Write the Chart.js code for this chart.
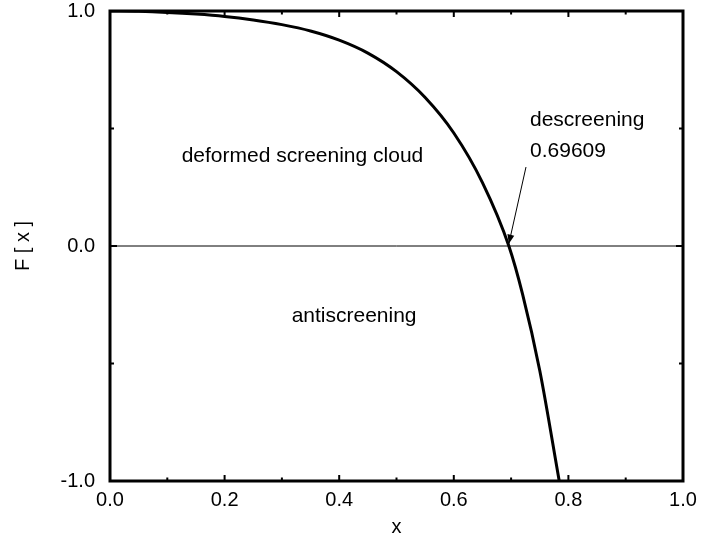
<!DOCTYPE html>
<html>
<head>
<meta charset="utf-8">
<script src="https://cdn.jsdelivr.net/npm/chart.js@4/dist/chart.umd.min.js"></script>
<style>
  html, body { margin: 0; padding: 0; background: #fff; }
  #wrap { width: 701px; height: 539px; }
</style>
</head>
<body>
<div id="wrap"><canvas id="fChart"></canvas></div>
<script>
// valeurs
const xValues = [0, 0.05, 0.1, 0.15, 0.2, 0.25, 0.3, 0.35, 0.4, 0.45, 0.5, 0.55, 0.6, 0.65, 0.69609, 0.72, 0.75, 0.784];
const fValues = [1, 0.9985, 0.994, 0.987, 0.977, 0.962, 0.942, 0.915, 0.876, 0.821, 0.742, 0.632, 0.481, 0.27, 0, -0.205, -0.53, -1];

const xTicks = [0, 0.2, 0.4, 0.6, 0.8, 1.0];
const yTicks = [-1, 0, 1];

const rootX = 0.69609;

// textes posés en coordonnées de données
const notes = [
    { text: "deformed screening cloud", x: 0.125, y: 0.358 },
    { text: "antiscreening", x: 0.317, y: -0.322 },
    { text: "descreening", x: 0.733, y: 0.51 },
    { text: "0.69609", x: 0.733, y: 0.38 }
];

const FONT = "'Liberation Sans', Arial, Helvetica, sans-serif";

const curve = xValues.map((x, i) => ({ x: x, y: fValues[i] }));

// cadre, graduations intérieures, textes et flèche
const framePlugin = {
    id: "frame",
    afterDatasetsDraw(chart) {
        const { ctx, chartArea: a, scales } = chart;
        const sx = scales.x, sy = scales.y;
        ctx.save();
        ctx.strokeStyle = "#000";
        ctx.lineCap = "butt";

        // graduations en x (0.1)
        ctx.lineWidth = 2;
        for (let i = 1; i < 10; i++) {
            const px = sx.getPixelForValue(i / 10);
            const len = (i % 2 === 0) ? 6 : 3.5;
            ctx.beginPath();
            ctx.moveTo(px, a.bottom); ctx.lineTo(px, a.bottom - len);
            ctx.moveTo(px, a.top); ctx.lineTo(px, a.top + len);
            ctx.stroke();
        }
        // graduations en y (0.5)
        [-0.5, 0, 0.5].forEach(v => {
            const py = sy.getPixelForValue(v);
            const len = (v === 0) ? 7 : 4;
            ctx.beginPath();
            ctx.moveTo(a.left, py); ctx.lineTo(a.left + len, py);
            ctx.moveTo(a.right, py); ctx.lineTo(a.right - len, py);
            ctx.stroke();
        });

        // cadre
        ctx.lineWidth = 3;
        ctx.strokeRect(a.left, a.top, a.right - a.left, a.bottom - a.top);

        // textes
        ctx.fillStyle = "#000";
        ctx.font = "21px " + FONT;
        ctx.textAlign = "left";
        ctx.textBaseline = "alphabetic";
        notes.forEach(n => {
            ctx.fillText(n.text, sx.getPixelForValue(n.x), sy.getPixelForValue(n.y));
        });

        // flèche vers la racine
        const x0 = sx.getPixelForValue(0.726), y0 = sy.getPixelForValue(0.336);
        const x1 = sx.getPixelForValue(rootX), y1 = sy.getPixelForValue(0.01);
        const ang = Math.atan2(y1 - y0, x1 - x0);
        ctx.lineWidth = 1;
        ctx.beginPath();
        ctx.moveTo(x0, y0); ctx.lineTo(x1, y1);
        ctx.stroke();
        const hl = 9, hw = 3.5;
        ctx.beginPath();
        ctx.moveTo(x1, y1);
        ctx.lineTo(x1 - hl * Math.cos(ang) + hw * Math.sin(ang), y1 - hl * Math.sin(ang) - hw * Math.cos(ang));
        ctx.lineTo(x1 - hl * Math.cos(ang) - hw * Math.sin(ang), y1 - hl * Math.sin(ang) + hw * Math.cos(ang));
        ctx.closePath();
        ctx.fill();
        ctx.restore();
    }
};

new Chart(document.getElementById("fChart"), {
    type: "scatter",
    data: {
        datasets: [
            {
                data: [{ x: 0, y: 0 }, { x: 1, y: 0 }],
                showLine: true,
                borderColor: "#000",
                borderWidth: 1,
                pointRadius: 0
            },
            {
                data: curve,
                showLine: true,
                borderColor: "#000",
                borderWidth: 3,
                pointRadius: 0,
                cubicInterpolationMode: "monotone"
            }
        ]
    },
    options: {
        responsive: true,
        maintainAspectRatio: false,
        animation: false,
        layout: { padding: { left: 0, right: 18, top: 11, bottom: 0 } },
        plugins: {
            legend: { display: false },
            tooltip: { enabled: false }
        },
        scales: {
            x: {
                type: "linear",
                min: 0, max: 1,
                afterFit(scale) {
                    scale.height = 58;
                    scale.paddingLeft = 0; scale.paddingRight = 0;
                },
                afterBuildTicks(scale) { scale.ticks = xTicks.map(v => ({ value: v })); },
                grid: { display: false, drawTicks: false },
                border: { display: false },
                ticks: {
                    padding: 7,
                    color: "#000",
                    font: { family: FONT, size: 20 },
                    maxRotation: 0,
                    callback: v => v.toFixed(1)
                },
                title: {
                    display: true,
                    text: "x",
                    color: "#000",
                    font: { family: FONT, size: 20 },
                    padding: { top: 0, bottom: 0 }
                }
            },
            y: {
                type: "linear",
                min: -1, max: 1,
                afterFit(scale) {
                    scale.width = 110;
                    scale.paddingTop = 0; scale.paddingBottom = 0;
                },
                afterBuildTicks(scale) { scale.ticks = yTicks.map(v => ({ value: v })); },
                grid: { display: false, drawTicks: false },
                border: { display: false },
                ticks: {
                    padding: 15,
                    color: "#000",
                    font: { family: FONT, size: 20 },
                    callback: v => v.toFixed(1)
                },
                title: {
                    display: true,
                    text: "F [ x ]",
                    color: "#000",
                    font: { family: FONT, size: 20 },
                    padding: { top: 11, bottom: 0 }
                }
            }
        }
    },
    plugins: [framePlugin]
});
</script>
</body>
</html>
